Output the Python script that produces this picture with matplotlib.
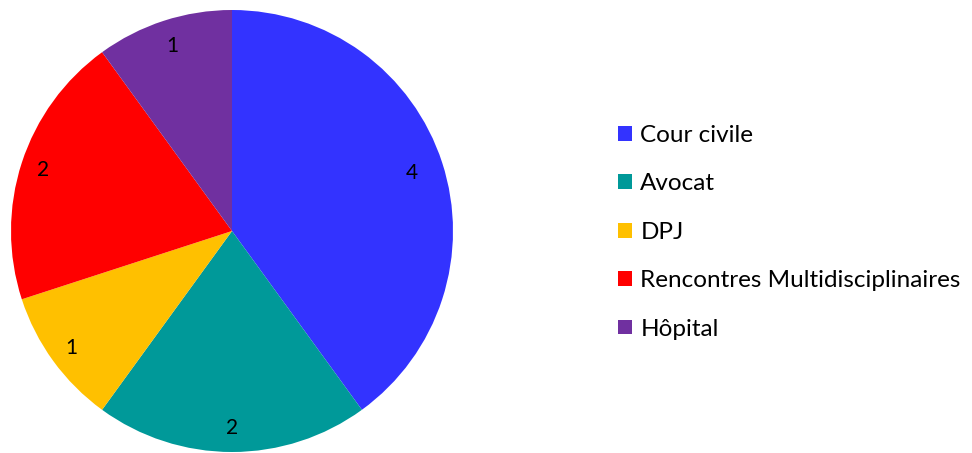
import numpy as np
import matplotlib.pyplot as plt

categories = ["Cour civile", "Avocat", "DPJ", "Rencontres Multidisciplinaires", "Hôpital"]
values = [4, 2, 1, 2, 1]
colors = ["#3333FF", "#009999", "#FFC000", "#FF0000", "#7030A0"]
# distance of each value label from the centre (fraction of radius)
label_dist = [0.855, 0.89, 0.90, 0.90, 0.88]

plt.rcParams["font.family"] = ["Lato", "DejaVu Sans"]

fig = plt.figure(figsize=(9.72, 4.53), dpi=100)
ax = fig.add_axes([11 / 972, 1 / 453, 442 / 972, 442 / 453])

wedges, _ = ax.pie(values, colors=colors, startangle=90, counterclock=False,
                   wedgeprops=dict(linewidth=0))
ax.set_xlim(-1, 1)
ax.set_ylim(-1, 1)
ax.set_aspect("equal")
ax.axis("off")

for w, v, d in zip(wedges, values, label_dist):
    ang = np.deg2rad((w.theta1 + w.theta2) / 2)
    ax.text(d * np.cos(ang), d * np.sin(ang), str(v), ha="center", va="center",
            fontsize=15, color="black")

fig.legend(wedges, categories, loc="upper left", bbox_to_anchor=(0.626, 0.746),
           frameon=False, fontsize=17.5, handlelength=0.56, handleheight=0.56,
           handletextpad=0.35, labelspacing=1.13, borderaxespad=0)

fig.savefig("out.png", dpi=100)
